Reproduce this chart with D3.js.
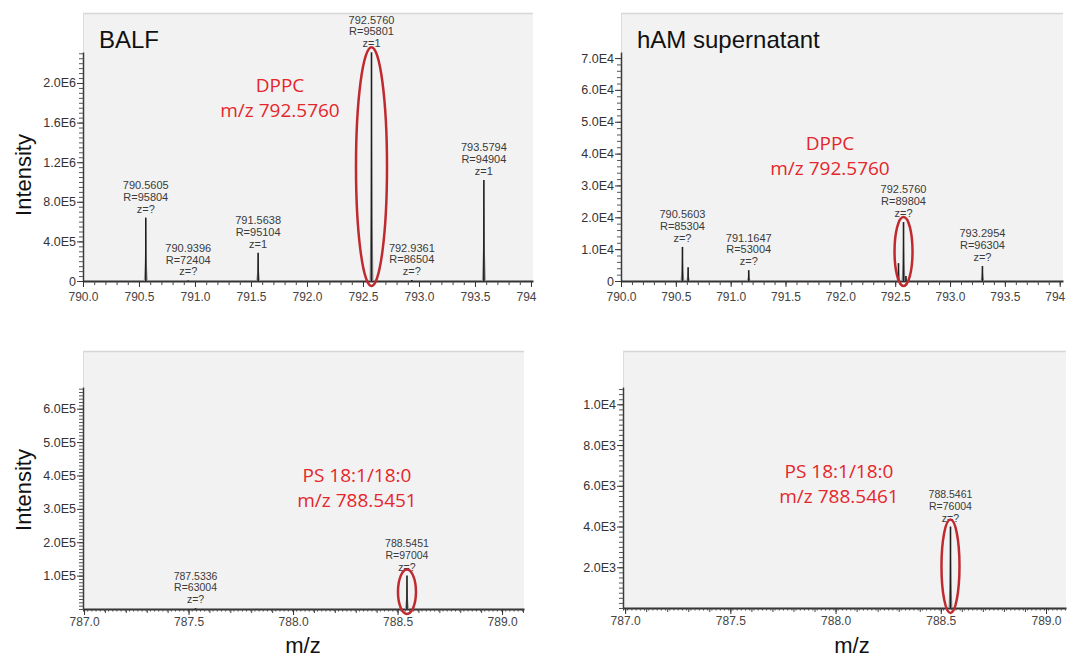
<!DOCTYPE html>
<html>
<head>
<meta charset="utf-8">
<script src="https://cdn.jsdelivr.net/npm/d3@7"></script>
<style>
  body { margin: 0; background: #fff; }
  svg { display: block; }
</style>
</head>
<body>
<svg id="chart" width="1072" height="657"></svg>
<script>
// BALF, DPPC window
var balfMz  = [790.5605, 790.9396, 791.5638, 792.5760, 792.9361, 793.5794];
var balfInt = [6.4e5, 6e3, 2.85e5, 2.31e6, 9e3, 1.02e6];
var balfRes = [95804, 72404, 95104, 95801, 86504, 94904];
var balfZ   = ["?", "?", "1", "1", "?", "1"];

// hAM supernatant, DPPC window
var hamMz  = [790.5603, 791.1647, 792.5760, 793.2954];
var hamInt = [1.07e4, 3.4e3, 1.85e4, 4.7e3];
var hamRes = [85304, 53004, 89804, 96304];
var hamZ   = ["?", "?", "?", "?"];
// small unlabelled shoulders next to the hAM peaks
var hamSideMz  = [790.612, 792.530, 792.598];
var hamSideInt = [4.3e3, 5.6e3, 1.6e3];

// BALF, PS window
var balfPsMz  = [787.5336, 788.5451];
var balfPsInt = [2.5e3, 1.0e5];
var balfPsRes = [63004, 97004];
var balfPsZ   = ["?", "?"];

// hAM supernatant, PS window
var hamPsMz  = [788.5461];
var hamPsInt = [4.0e3];
var hamPsRes = [76004];
var hamPsZ   = ["?"];

// tick labels
var xTicksTop    = [790.0, 790.5, 791.0, 791.5, 792.0, 792.5, 793.0, 793.5, 794.0];
var xTicksBottom = [787.0, 787.5, 788.0, 788.5, 789.0];
var yTicksBalf   = [0, 4e5, 8e5, 1.2e6, 1.6e6, 2.0e6];
var yTicksHam    = [0, 1e4, 2e4, 3e4, 4e4, 5e4, 6e4, 7e4];
var yTicksBalfPs = [1e5, 2e5, 3e5, 4e5, 5e5, 6e5];
var yTicksHamPs  = [2e3, 4e3, 6e3, 8e3, 1e4];

var svg = d3.select("#chart");
var ARIAL = "'Liberation Sans', Arial, sans-serif";
var RED_TEXT = "#e5262b";
var RED_RING = "#bf2a2f";

function fmtY(v) {
  if (v === 0) return "0";
  return d3.format(".1e")(v).replace("e+", "E");
}

function peaksOf(mz, inten, res, z) {
  return mz.map(function(m, i) {
    return {mz: m, v: inten[i], res: res ? res[i] : null, z: z ? z[i] : null};
  });
}

function drawPanel(p, idx) {
  var g = svg.append("g");
  var x = d3.scaleLinear().domain(p.xDomain).range([p.left, p.right]);
  var y = d3.scaleLinear().domain([0, p.yMax]).range([p.base, p.axisTop]);

  // plot background
  g.append("rect")
    .attr("x", p.left).attr("y", p.top)
    .attr("width", p.right - p.left).attr("height", p.base - p.top)
    .attr("fill", "#f2f2f2");
  g.append("line")
    .attr("x1", p.left).attr("x2", p.right)
    .attr("y1", p.top + 0.5).attr("y2", p.top + 0.5)
    .attr("stroke", "#d6d6d6").attr("stroke-width", 1.5);
  g.append("line")
    .attr("x1", p.left + 0.5).attr("x2", p.left + 0.5)
    .attr("y1", p.top).attr("y2", p.axisTop)
    .attr("stroke", "#dcdcdc");

  // panel title
  if (p.title) {
    g.append("text").attr("x", p.left + 16).attr("y", 48)
      .attr("font-family", ARIAL).attr("font-size", 24).attr("fill", "#111")
      .text(p.title);
  }

  // y axis: minor then major
  var yMinor = d3.range(0, p.yMax, p.yMinorStep);
  g.append("g").attr("transform", "translate(" + p.left + ",0)")
    .call(d3.axisLeft(y).tickValues(yMinor).tickSize(4).tickSizeOuter(0).tickFormat(""))
    .call(function(a) { a.select(".domain").attr("stroke", "#3a3a3a").attr("stroke-width", 1.5); a.selectAll("line").attr("stroke", "#555"); });
  g.append("g").attr("transform", "translate(" + p.left + ",0)")
    .call(d3.axisLeft(y).tickValues(p.yTicks).tickSize(6).tickPadding(1).tickSizeOuter(0).tickFormat(fmtY))
    .call(function(a) {
      a.select(".domain").remove();
      a.selectAll("line").attr("stroke", "#3a3a3a");
      a.selectAll("text").attr("font-family", ARIAL).attr("font-size", 12.5).attr("fill", "#333");
    });

  // x axis
  var xg = g.append("g");
  var xMinor = d3.range(p.xDomain[0], p.xDomain[1], p.xMinorStep);
  xg.append("g").attr("transform", "translate(0," + p.base + ")")
    .call(d3.axisBottom(x).tickValues(xMinor).tickSize(p.xMid ? 2.5 : 4).tickSizeOuter(0).tickFormat(""))
    .call(function(a) { a.select(".domain").attr("stroke", "#333").attr("stroke-width", 2); a.selectAll("line").attr("stroke", "#444"); });
  if (p.xMid) {
    var xMid = d3.range(Math.ceil(p.xDomain[0] * 10) / 10, p.xDomain[1], 0.1);
    xg.append("g").attr("transform", "translate(0," + p.base + ")")
      .call(d3.axisBottom(x).tickValues(xMid).tickSize(4).tickSizeOuter(0).tickFormat(""))
      .call(function(a) { a.select(".domain").remove(); a.selectAll("line").attr("stroke", "#444"); });
  }
  var f1 = d3.format(".1f");
  xg.append("g").attr("transform", "translate(0," + p.base + ")")
    .call(d3.axisBottom(x).tickValues(p.xTicks).tickSize(6).tickSizeOuter(0)
      .tickFormat(function(v) {
        // the exported plot cuts the last label at the frame edge, leaving "794"
        return x(v) + 16 > p.right ? String(Math.round(v)) : f1(v);
      }))
    .call(function(a) {
      a.select(".domain").remove();
      a.selectAll("line").attr("stroke", "#333");
      a.selectAll("text").attr("font-family", ARIAL).attr("font-size", 12).attr("fill", "#444")
        .attr("y", p.xLabelGap).attr("dy", 0)
        .each(function(v) {
          if (x(v) + 16 > p.right) d3.select(this).attr("text-anchor", "start").attr("x", -15);
        });
    });

  // peaks: light base profile + dark centroid stick
  var all = p.peaks.concat(p.side || []);
  g.selectAll(".prof").data(all).join("path")
    .attr("d", function(d) {
      var px = x(d.mz), top = y(d.v), mid = y(d.v * 0.3), b = p.base;
      return "M" + (px - 2) + "," + b + "L" + (px - 1) + "," + mid + "L" + px + "," + top +
             "L" + (px + 1) + "," + mid + "L" + (px + 2) + "," + b + "Z";
    })
    .attr("fill", "#9a9a9a");
  g.selectAll(".stick").data(all).join("line")
    .attr("x1", function(d) { return x(d.mz); }).attr("x2", function(d) { return x(d.mz); })
    .attr("y1", p.base).attr("y2", function(d) { return y(d.v); })
    .attr("stroke", "#1e1e1e").attr("stroke-width", 1.6);

  // peak annotations
  var lab = g.selectAll(".plab").data(p.peaks).join("text")
    .attr("font-family", ARIAL).attr("font-size", p.labelSize).attr("fill", "#3a3a3a")
    .attr("text-anchor", "middle");
  lab.each(function(d) {
    var t = d3.select(this), px = x(d.mz), yb = y(d.v) - 5;
    var lines = [d3.format(".4f")(d.mz), "R=" + d.res, "z=" + d.z];
    lines.forEach(function(s, i) {
      t.append("tspan").attr("x", px).attr("y", yb - (2 - i) * 11.8).text(s);
    });
  });

  // red ring round the compound of interest
  var hp = p.peaks.find(function(d) { return d.mz === p.ringMz; });
  var ringTop = y(hp.v) - p.ringPad, ringBot = p.base + 5;
  g.append("ellipse")
    .attr("cx", x(hp.mz)).attr("cy", (ringTop + ringBot) / 2)
    .attr("rx", p.ringRx).attr("ry", (ringBot - ringTop) / 2)
    .attr("fill", "none").attr("stroke", RED_RING).attr("stroke-width", 2.5);

  // red compound note
  var note = g.append("text").attr("font-family", "'Open Sans', sans-serif").attr("font-size", 19)
    .attr("fill", RED_TEXT).attr("text-anchor", "middle");
  p.note.forEach(function(s, i) {
    note.append("tspan").attr("x", p.noteX).attr("y", p.noteY + i * 24.5).text(s);
  });

  // axis titles
  if (p.yTitle) {
    g.append("text")
      .attr("transform", "translate(31," + p.yTitleY + ") rotate(-90)")
      .attr("text-anchor", "middle").attr("font-family", ARIAL).attr("font-size", 22).attr("fill", "#111")
      .text("Intensity");
  }
  if (p.xTitle) {
    g.append("text").attr("x", p.xTitleX).attr("y", 653)
      .attr("text-anchor", "middle").attr("font-family", ARIAL).attr("font-size", 22).attr("fill", "#111")
      .text("m/z");
  }
}

var panels = [
  {
    title: "BALF", left: 83, right: 533, top: 13, base: 281, axisTop: 52,
    xDomain: [790, 794.018], yMax: 2.313e6, xTicks: xTicksTop, yTicks: yTicksBalf,
    xMinorStep: 0.1, yMinorStep: 5e4, xLabelGap: 20, labelSize: 11,
    peaks: peaksOf(balfMz, balfInt, balfRes, balfZ),
    ringMz: 792.5760, ringRx: 15.5, ringPad: 5,
    note: ["DPPC", "m/z 792.5760"], noteX: 280, noteY: 92,
    yTitle: true, yTitleY: 175
  },
  {
    title: "hAM supernatant", left: 621, right: 1063, top: 13, base: 281, axisTop: 52,
    xDomain: [790, 794.03], yMax: 7.19e4, xTicks: xTicksTop, yTicks: yTicksHam,
    xMinorStep: 0.1, yMinorStep: 2e3, xLabelGap: 20, labelSize: 11,
    peaks: peaksOf(hamMz, hamInt, hamRes, hamZ),
    side: peaksOf(hamSideMz, hamSideInt),
    ringMz: 792.5760, ringRx: 9, ringPad: 5,
    note: ["DPPC", "m/z 792.5760"], noteX: 830, noteY: 150
  },
  {
    left: 83, right: 524, top: 351, base: 609, axisTop: 387,
    xDomain: [786.995, 789.105], yMax: 6.65e5, xTicks: xTicksBottom, yTicks: yTicksBalfPs,
    xMinorStep: 0.02, xMid: true, yMinorStep: 1e4, xLabelGap: 17, labelSize: 10.5,
    peaks: peaksOf(balfPsMz, balfPsInt, balfPsRes, balfPsZ),
    ringMz: 788.5451, ringRx: 9, ringPad: 6,
    note: ["PS 18:1/18:0", "m/z 788.5451"], noteX: 357, noteY: 482,
    yTitle: true, yTitleY: 490, xTitle: true, xTitleX: 303
  },
  {
    left: 623, right: 1066, top: 351, base: 608, axisTop: 387,
    xDomain: [786.99, 789.095], yMax: 1.085e4, xTicks: xTicksBottom, yTicks: yTicksHamPs,
    xMinorStep: 0.02, xMid: true, yMinorStep: 250, xLabelGap: 17, labelSize: 10.5,
    peaks: peaksOf(hamPsMz, hamPsInt, hamPsRes, hamPsZ),
    ringMz: 788.5461, ringRx: 9, ringPad: 7,
    note: ["PS 18:1/18:0", "m/z 788.5461"], noteX: 839, noteY: 478,
    xTitle: true, xTitleX: 852
  }
];

panels.forEach(drawPanel);
</script>
</body>
</html>
